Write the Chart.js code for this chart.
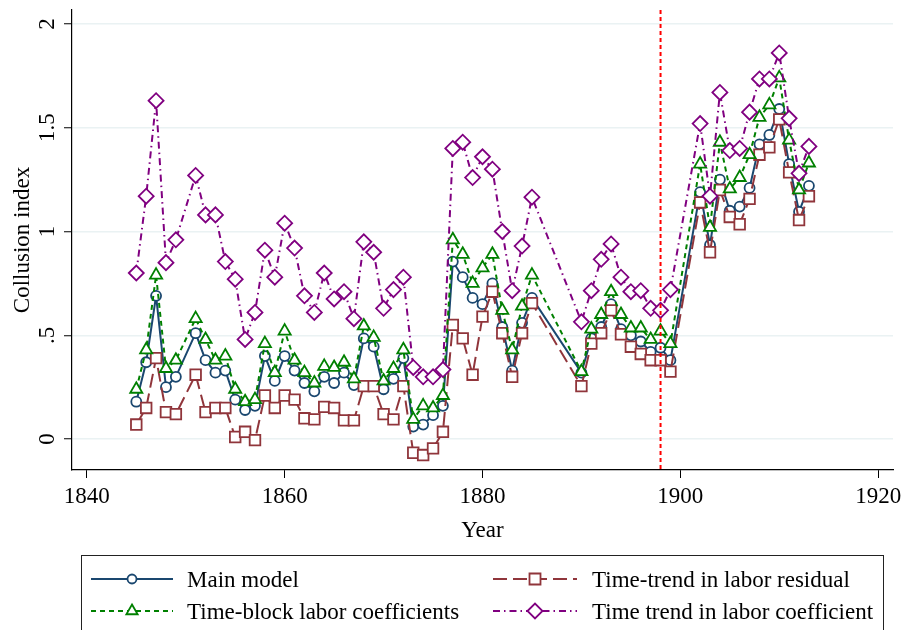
<!DOCTYPE html>
<html>
<head>
<meta charset="utf-8">
<script src="https://cdn.jsdelivr.net/npm/chart.js@4.4.1/dist/chart.umd.min.js"></script>
<style>
  html, body { margin: 0; padding: 0; background: #fff; }
  #wrap { width: 903px; height: 630px; }
</style>
</head>
<body>
<div id="wrap"><canvas id="grafico" width="903" height="630"></canvas></div>
<script>
// years with observations (1850, 1886-1889, 1900-1901 are missing)
const years = [
  1845, 1846, 1847, 1848, 1849,
  1851, 1852, 1853, 1854, 1855, 1856, 1857, 1858, 1859, 1860,
  1861, 1862, 1863, 1864, 1865, 1866, 1867, 1868, 1869, 1870,
  1871, 1872, 1873, 1874, 1875, 1876, 1877, 1878, 1879, 1880,
  1881, 1882, 1883, 1884, 1885,
  1890, 1891, 1892, 1893, 1894, 1895, 1896, 1897, 1898, 1899,
  1902, 1903, 1904, 1905, 1906, 1907, 1908, 1909, 1910, 1911, 1912, 1913
];

const mainModel = [
  0.18, 0.37, 0.69, 0.25, 0.30,
  0.51, 0.38, 0.32, 0.33, 0.19, 0.14, 0.16, 0.40, 0.28, 0.40,
  0.33, 0.27, 0.23, 0.30, 0.27, 0.32, 0.26, 0.485, 0.445, 0.24,
  0.29, 0.39, 0.06, 0.07, 0.115, 0.16, 0.855, 0.78, 0.68, 0.65,
  0.75, 0.54, 0.33, 0.56, 0.68,
  0.32, 0.485, 0.54, 0.65, 0.53, 0.50, 0.47, 0.42, 0.44, 0.38,
  1.19, 0.935, 1.25, 1.10, 1.12, 1.21, 1.42, 1.465, 1.59, 1.325, 1.095, 1.22
];

const trendResidual = [
  0.07, 0.15, 0.39, 0.13, 0.12,
  0.31, 0.13, 0.15, 0.15, 0.01, 0.035, -0.005, 0.21, 0.15, 0.21,
  0.19, 0.10, 0.095, 0.155, 0.15, 0.09, 0.09, 0.255, 0.255, 0.12,
  0.095, 0.255, -0.066, -0.077, -0.045, 0.035, 0.55, 0.485, 0.31, 0.59,
  0.71, 0.51, 0.30, 0.51, 0.655,
  0.255, 0.46, 0.51, 0.62, 0.505, 0.445, 0.41, 0.38, 0.38, 0.325,
  1.14, 0.90, 1.20, 1.07, 1.035, 1.157, 1.37, 1.405, 1.54, 1.285, 1.055, 1.17
];

const timeBlock = [
  0.24, 0.43, 0.79, 0.34, 0.38,
  0.58, 0.48, 0.38, 0.40, 0.24, 0.18, 0.19, 0.46, 0.32, 0.52,
  0.38, 0.32, 0.27, 0.35, 0.345, 0.37, 0.29, 0.545, 0.49, 0.28,
  0.34, 0.43, 0.095, 0.16, 0.15, 0.21, 0.96, 0.89, 0.75, 0.825,
  0.89, 0.62, 0.43, 0.64, 0.79,
  0.325, 0.53, 0.60, 0.71, 0.60, 0.535, 0.535, 0.48, 0.52, 0.46,
  1.325, 1.02, 1.43, 1.205, 1.26, 1.37, 1.55, 1.61, 1.74, 1.44, 1.20, 1.33
];

const trendCoef = [
  0.80, 1.17, 1.63, 0.85, 0.96,
  1.27, 1.08, 1.08, 0.855, 0.77, 0.48, 0.61, 0.91, 0.78, 1.04,
  0.92, 0.69, 0.61, 0.80, 0.675, 0.71, 0.58, 0.95, 0.90, 0.63,
  0.72, 0.78, 0.345, 0.30, 0.30, 0.335, 1.40, 1.43, 1.26, 1.36,
  1.30, 1.00, 0.715, 0.93, 1.165,
  0.565, 0.715, 0.866, 0.94, 0.78, 0.71, 0.715, 0.63, 0.62, 0.72,
  1.52, 1.17, 1.67, 1.39, 1.40, 1.575, 1.735, 1.735, 1.86, 1.545, 1.28, 1.41
];

const seriesNames = [
  'Main model',
  'Time-trend in labor residual',
  'Time-block labor coefficients',
  'Time trend in labor coefficient'
];

const xTicks = [1840, 1860, 1880, 1900, 1920];
const yTicks = [0, 0.5, 1, 1.5, 2];
const breakYear = 1898;

const FONT = "'Liberation Serif', 'Times New Roman', serif";

const pontos = (vals) => years.map((yr, i) => ({ x: yr, y: vals[i] }));

// red dashed reference line
const linhaVertical = {
    id: 'linhaVertical',
    afterDatasetsDraw(chart) {
        const { ctx, chartArea, scales } = chart;
        const x = scales.x.getPixelForValue(breakYear);
        ctx.save();
        ctx.strokeStyle = '#ff0000';
        ctx.lineWidth = 2;
        ctx.setLineDash([4, 3]);
        ctx.beginPath();
        ctx.moveTo(x, chartArea.top);
        ctx.lineTo(x, chartArea.bottom);
        ctx.stroke();
        ctx.restore();
    }
};

function desenhaMarcador(ctx, estilo, x, y, r) {
    ctx.beginPath();
    if (estilo === 'circle') {
        ctx.arc(x, y, r, 0, Math.PI * 2);
    } else if (estilo === 'rect') {
        ctx.rect(x - r, y - r, 2 * r, 2 * r);
    } else if (estilo === 'triangle') {
        ctx.moveTo(x, y - r);
        ctx.lineTo(x + r * 0.866, y + r * 0.5);
        ctx.lineTo(x - r * 0.866, y + r * 0.5);
        ctx.closePath();
    } else {
        ctx.moveTo(x - r, y);
        ctx.lineTo(x, y - r);
        ctx.lineTo(x + r, y);
        ctx.lineTo(x, y + r);
        ctx.closePath();
    }
    ctx.fillStyle = '#fff';
    ctx.fill();
    ctx.setLineDash([]);
    ctx.stroke();
}

// boxed two-column legend like the Stata one
const legendaCaixa = {
    id: 'legendaCaixa',
    afterDraw(chart) {
        const ctx = chart.ctx;
        ctx.save();
        ctx.strokeStyle = '#222';
        ctx.lineWidth = 1;
        ctx.setLineDash([]);
        ctx.strokeRect(81.5, 555.5, 802, 90);

        const itens = [
            { i: 0, x0: 91, x1: 173, y: 579, tx: 187, r: 4.5 },
            { i: 1, x0: 493, x1: 577, y: 579, tx: 592, r: 5.5 },
            { i: 2, x0: 91, x1: 173, y: 611, tx: 187, r: 6.5 },
            { i: 3, x0: 493, x1: 577, y: 611, tx: 592, r: 7.5 }
        ];
        itens.forEach(it => {
            const ds = chart.data.datasets[it.i];
            ctx.strokeStyle = ds.borderColor;
            ctx.lineWidth = 2;
            ctx.setLineDash(ds.borderDash || []);
            ctx.beginPath();
            ctx.moveTo(it.x0, it.y);
            ctx.lineTo(it.x1, it.y);
            ctx.stroke();
            ctx.lineWidth = 1.8;
            desenhaMarcador(ctx, ds.pointStyle, (it.x0 + it.x1) / 2, it.y, it.r);
            ctx.fillStyle = '#000';
            ctx.font = '23px ' + FONT;
            ctx.textAlign = 'left';
            ctx.textBaseline = 'middle';
            ctx.fillText(ds.label, it.tx, it.y + 2);
        });
        ctx.restore();
    }
};

const ctx = document.getElementById('grafico');

new Chart(ctx, {
    type: 'line',
    data: {
        datasets: [
            {
                label: seriesNames[0],
                data: pontos(mainModel),
                borderColor: '#1a476f',
                borderWidth: 2,
                pointStyle: 'circle',
                pointRadius: 5,
                pointBorderWidth: 1.8,
                pointBackgroundColor: '#fff',
                order: 4
            },
            {
                label: seriesNames[1],
                data: pontos(trendResidual),
                borderColor: '#90353b',
                borderWidth: 2,
                borderDash: [14, 6],
                pointStyle: 'rect',
                pointRadius: 7.5,
                pointBorderWidth: 1.8,
                pointBackgroundColor: '#fff',
                order: 3
            },
            {
                label: seriesNames[2],
                data: pontos(timeBlock),
                borderColor: '#008000',
                borderWidth: 2,
                borderDash: [5, 4],
                pointStyle: 'triangle',
                pointRadius: 7,
                pointBorderWidth: 1.8,
                pointBackgroundColor: '#fff',
                order: 2
            },
            {
                label: seriesNames[3],
                data: pontos(trendCoef),
                borderColor: '#800080',
                borderWidth: 2,
                borderDash: [7, 4, 1.5, 4],
                pointStyle: 'rectRot',
                pointRadius: 7.5,
                pointBorderWidth: 1.8,
                pointBackgroundColor: '#fff',
                order: 1
            }
        ]
    },
    options: {
        responsive: false,
        animation: false,
        layout: { padding: { top: 10, right: 10, left: 0, bottom: 0 } },
        elements: { line: { tension: 0, fill: false } },
        scales: {
            x: {
                type: 'linear',
                min: 1838.5,
                max: 1921.5,
                afterBuildTicks: (s) => { s.ticks = xTicks.map(v => ({ value: v })); },
                afterFit: (s) => {
                    s.height = 160;
                    s.paddingLeft = 0;
                    s.paddingRight = 0;
                },
                ticks: {
                    color: '#000',
                    padding: 5,
                    font: { family: FONT, size: 23 },
                    maxRotation: 0,
                    callback: (v) => String(v)
                },
                grid: {
                    drawOnChartArea: false,
                    drawTicks: true,
                    tickLength: 8,
                    tickColor: '#000',
                    tickWidth: 1
                },
                border: { display: true, color: '#000', width: 1.2 },
                title: {
                    display: true,
                    text: 'Year',
                    color: '#000',
                    font: { family: FONT, size: 23 },
                    padding: { top: 0, bottom: 85 }
                }
            },
            y: {
                min: -0.149,
                max: 2.067,
                afterBuildTicks: (s) => { s.ticks = yTicks.map(v => ({ value: v })); },
                afterFit: (s) => {
                    s.width = 72;
                    s.paddingTop = 0;
                    s.paddingBottom = 0;
                },
                ticks: {
                    color: '#000',
                    padding: 2,
                    minRotation: 90,
                    maxRotation: 90,
                    crossAlign: 'center',
                    font: { family: FONT, size: 23 },
                    callback: (v) => (v === 0.5 ? '.5' : String(v))
                },
                grid: {
                    color: '#eaf2f3',
                    lineWidth: 1.5,
                    drawTicks: true,
                    tickLength: 8,
                    tickColor: '#000',
                    tickWidth: 1
                },
                border: { display: true, color: '#000', width: 1.2 },
                title: {
                    display: true,
                    text: 'Collusion index',
                    color: '#000',
                    font: { family: FONT, size: 23 },
                    padding: { top: 9, bottom: 0 }
                }
            }
        },
        plugins: {
            legend: { display: false },
            tooltip: { enabled: false }
        }
    },
    plugins: [linhaVertical, legendaCaixa]
});
</script>
</body>
</html>
